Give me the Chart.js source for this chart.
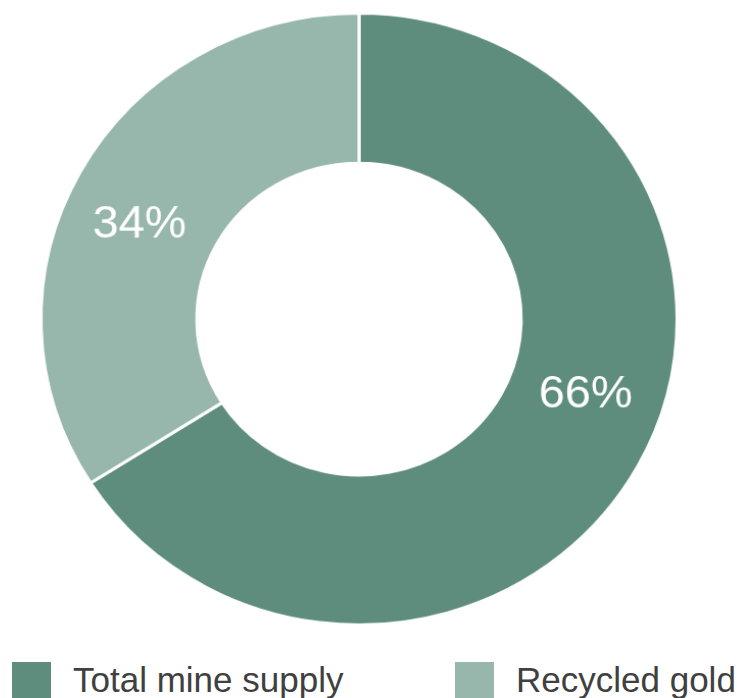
<!DOCTYPE html>
<html>
<head>
<meta charset="utf-8">
<script src="https://cdn.jsdelivr.net/npm/chart.js@4"></script>
<style>
    html, body {
        margin: 0;
        padding: 0;
        background: #ffffff;
    }
    #wrap {
        position: relative;
        width: 737px;
        height: 698px;
        overflow: hidden;
    }
    #chart-box {
        position: absolute;
        left: 0;
        top: 0;
        width: 737px;
        height: 640px;
        /* the ring is a touch wider than tall */
        transform-origin: 358.5px 319.5px;
        transform: scale(1.021, 0.982);
    }
    #legend {
        position: absolute;
        left: 0;
        top: 662px;
        width: 737px;
        height: 40px;
        font-family: "Liberation Sans", Arial, sans-serif;
        font-size: 35px;
        color: #404040;
    }
    .legend-item {
        position: absolute;
        top: 0;
        display: flex;
        align-items: flex-start;
        white-space: nowrap;
    }
    .legend-item .swatch {
        width: 39px;
        height: 39px;
        margin-right: 22px;
    }
    .legend-item span {
        line-height: 1;
    }
</style>
</head>
<body>
<div id="wrap">
    <div id="chart-box"><canvas id="myChart"></canvas></div>
    <div id="legend"></div>
</div>
<script>
var labels = ["Total mine supply", "Recycled gold"];
var values = [66, 34];
var colors = ["#5e8d7e", "#98b7ac"];

// legend columns (left offset of each item)
var legendLeft = [12, 455];

// white percentage text inside each ring segment
var sliceLabels = {
    id: "sliceLabels",
    afterDatasetsDraw: function (chart) {
        var ctx = chart.ctx;
        var meta = chart.getDatasetMeta(0);
        var data = chart.data.datasets[0].data;
        var total = data.reduce(function (a, b) { return a + b; }, 0);
        ctx.save();
        ctx.fillStyle = "#ffffff";
        ctx.font = "46px 'Liberation Sans', Arial, sans-serif";
        ctx.textAlign = "center";
        ctx.textBaseline = "middle";
        meta.data.forEach(function (arc, i) {
            var p = arc.getProps(["x", "y", "startAngle", "endAngle", "innerRadius", "outerRadius"], true);
            var a = p.startAngle + (p.endAngle - p.startAngle) * 0.46;
            var r = (p.innerRadius + p.outerRadius) / 2;
            var pct = Math.round(data[i] / total * 100) + "%";
            ctx.fillText(pct, p.x + Math.cos(a) * r, p.y + Math.sin(a) * r);
        });
        ctx.restore();
    },
};

var ctx = document.getElementById("myChart").getContext("2d");
var myChart = new Chart(ctx, {
    type: "doughnut",
    data: {
        labels: labels,
        datasets: [
            {
                data: values,
                backgroundColor: colors,
                borderColor: "#ffffff",
                borderWidth: 3,
                hoverOffset: 0,
            },
        ],
    },
    options: {
        responsive: true,
        maintainAspectRatio: false,
        animation: false,
        events: [],
        cutout: "51%",
        layout: {
            padding: { left: 0, right: 19, top: 6, bottom: 8 },
        },
        plugins: {
            legend: { display: false },
            tooltip: { enabled: false },
        },
    },
    plugins: [sliceLabels],
});

// html legend built from the chart's own labels
var items = myChart.options.plugins.legend.labels.generateLabels(myChart);
var html = ``;
items.forEach(function (item, i) {
    html += `
    <div class="legend-item" style="left:${legendLeft[i]}px">
        <div class="swatch" style="background:${item.fillStyle}"></div>
        <span>${item.text}</span>
    </div>`;
});
document.getElementById("legend").innerHTML = html;
</script>
</body>
</html>
